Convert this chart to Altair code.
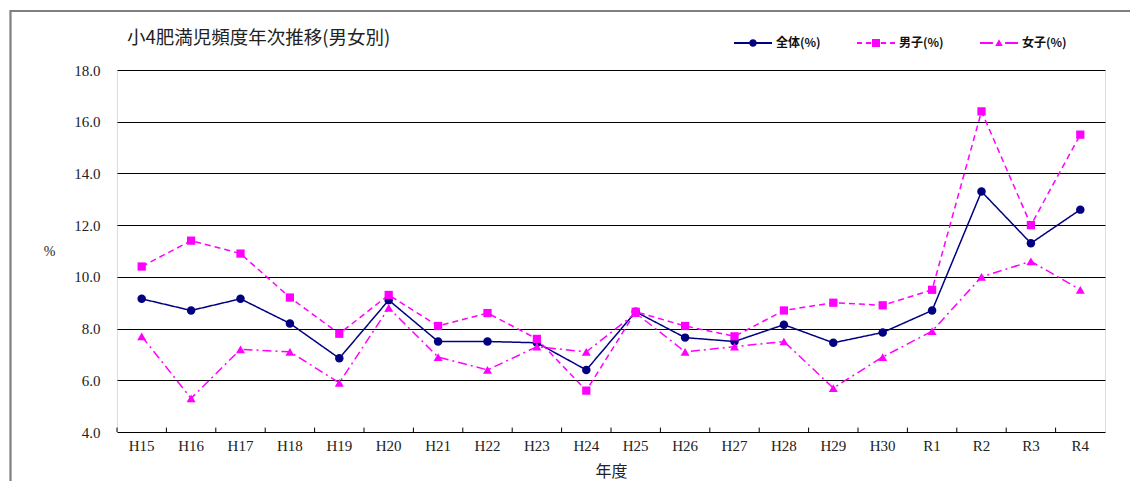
import altair as alt
import pandas as pd

years = ["H15", "H16", "H17", "H18", "H19", "H20", "H21", "H22", "H23", "H24",
         "H25", "H26", "H27", "H28", "H29", "H30", "R1", "R2", "R3", "R4"]
series_names = ["全体(%)", "男子(%)", "女子(%)"]
total = [9.15, 8.7, 9.15, 8.2, 6.85, 9.1, 7.5, 7.5, 7.45, 6.4,
         8.65, 7.65, 7.5, 8.15, 7.45, 7.85, 8.7, 13.3, 11.3, 12.6]
boys = [10.4, 11.4, 10.9, 9.2, 7.8, 9.3, 8.1, 8.6, 7.6, 5.6,
        8.65, 8.1, 7.7, 8.7, 9.0, 8.9, 9.5, 16.4, 12.0, 15.5]
girls = [7.7, 5.3, 7.2, 7.1, 5.9, 8.8, 6.9, 6.4, 7.3, 7.1,
         8.6, 7.1, 7.3, 7.5, 5.7, 6.9, 7.9, 10.0, 10.6, 9.5]
y_ticks = [4, 6, 8, 10, 12, 14, 16, 18]

rows = []
for name, vals in zip(series_names, [total, boys, girls]):
    for yr, v in zip(years, vals):
        rows.append({"year": yr, "series": name, "value": v})
df = pd.DataFrame(rows)

colors = ["#000080", "#FF00FF", "#FF00FF"]
dashes = [[1, 0], [6, 4], [9, 4, 2, 4]]
point_shapes = ["circle", "square", "triangle-up"]
point_sizes = [72, 68, 80]

legend_paths = [
    "M-1,-0.055H-0.18V0.055H-1Z M0.18,-0.055H1V0.055H0.18Z "
    "M-0.2,0A0.2,0.2 0 1,1 0.2,0A0.2,0.2 0 1,1 -0.2,0Z",
    "M-1,-0.055H-0.74V0.055H-1Z M-0.53,-0.055H-0.26V0.055H-0.53Z "
    "M-0.21,-0.21H0.21V0.21H-0.21Z M0.26,-0.055H0.53V0.055H0.26Z "
    "M0.74,-0.055H1V0.055H0.74Z",
    "M-1,-0.055H-0.32V0.055H-1Z M-0.2,0.16L0,-0.2L0.2,0.16Z "
    "M0.32,-0.055H1V0.055H0.32Z",
]

serif = "Liberation Serif"
jp = "Noto Sans CJK JP"

x_enc = alt.X(
    "year:N", sort=years,
    scale=alt.Scale(type="band", paddingInner=0, paddingOuter=0),
    axis=alt.Axis(title="年度", labelAngle=0, ticks=False, domain=False,
                  labelFont=serif, labelFontSize=15, labelColor="#222",
                  labelPadding=6, titleFont=jp, titleFontSize=16,
                  titleFontWeight="normal", titleColor="#222",
                  titleY=39, titleBaseline="middle"),
)
y_scale = alt.Scale(domain=[4, 18], nice=False, zero=False)
y_enc = alt.Y(
    "value:Q", scale=y_scale,
    axis=alt.Axis(title="%", values=y_ticks, format=".1f", ticks=False,
                  domain=False, grid=True, gridColor="#000000", gridWidth=1,
                  labelFont=serif, labelFontSize=15, labelColor="#222",
                  labelPadding=17, titleFont=serif, titleFontSize=14,
                  titleFontWeight="normal", titleColor="#222", titleAngle=0,
                  titleX=-68, titleY=181, titleAlign="center",
                  titleBaseline="middle"),
)
color_enc = alt.Color("series:N", scale=alt.Scale(domain=series_names, range=colors),
                      legend=None)

lines = alt.Chart(df).mark_line(strokeWidth=1.5).encode(
    x=x_enc, y=y_enc, color=color_enc,
    strokeDash=alt.StrokeDash("series:N",
                              scale=alt.Scale(domain=series_names, range=dashes),
                              legend=None),
    detail="series:N",
)

point_layers = []
for name, shp, sz in zip(series_names, point_shapes, point_sizes):
    point_layers.append(
        alt.Chart(df).transform_filter(alt.datum.series == name)
        .mark_point(filled=True, opacity=1, shape=shp, size=sz)
        .encode(x=x_enc, y=y_enc, color=color_enc)
    )

ticks = alt.Chart(df).transform_filter(alt.datum.series == series_names[0]).mark_rule(
    color="black", strokeWidth=1
).encode(
    x=alt.X("year:N", sort=years, bandPosition=0),
    y=alt.datum(4),
    y2=alt.datum(4.17),
)

frame = alt.Chart(pd.DataFrame({"a": [0]})).mark_rect(
    fill="transparent", stroke="#7f7f7f", strokeWidth=2.2, clip=False
).encode(
    x=alt.value(-106.5), x2=alt.value(1200),
    y=alt.value(-59), y2=alt.value(600),
)

main = alt.layer(frame, lines, *point_layers, ticks)

legend_opts = dict(
    title=None, orient="none", direction="horizontal",
    legendX=617, legendY=-46, padding=0,
    symbolSize=1444, symbolStrokeWidth=0, symbolOpacity=1,
    labelOffset=4, columnPadding=36,
    labelFont=jp, labelFontSize=12, labelFontWeight="bold",
    labelColor="#111",
)

legend_layer = alt.Chart(df).transform_filter("datum.value < 0").mark_point(
    filled=True, opacity=1
).encode(
    x=x_enc, y=y_enc,
    color=alt.Color("series:N", scale=alt.Scale(domain=series_names, range=colors),
                    legend=alt.Legend(**legend_opts)),
    shape=alt.Shape("series:N",
                    scale=alt.Scale(domain=series_names, range=legend_paths),
                    legend=alt.Legend(**legend_opts)),
)

chart = alt.layer(main, legend_layer).resolve_scale(
    color="independent", shape="independent"
).properties(
    width=988, height=362,
    title=alt.TitleParams(
        "小4肥満児頻度年次推移(男女別)", anchor="start", frame="group",
        dx=10, dy=77, offset=30, baseline="middle", font=jp, fontSize=18.5,
        fontWeight="normal", color="#222",
    ),
    autosize=alt.AutoSizeParams(type="none"),
    padding={"left": 109, "top": 62, "right": 25, "bottom": 49},
).configure_view(
    stroke="black", strokeWidth=1.5
).configure(background="white")

chart.save("out.html", embed_options={"renderer": "svg", "actions": False})
